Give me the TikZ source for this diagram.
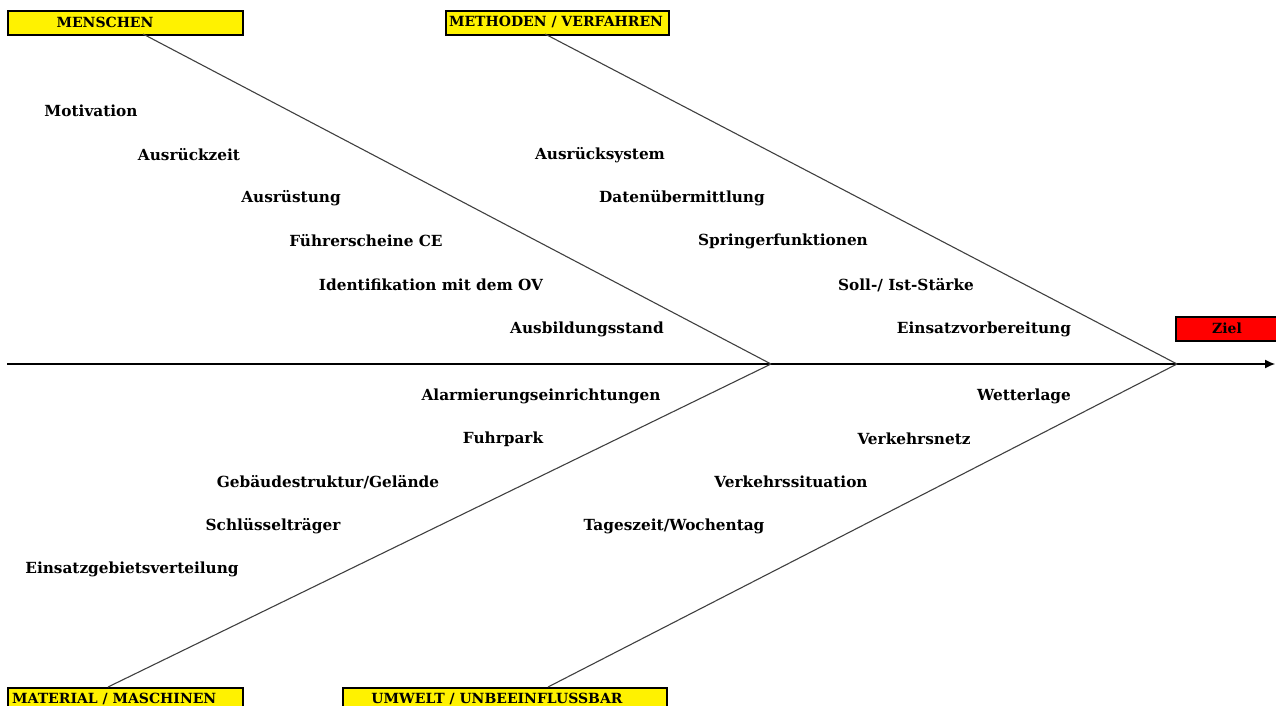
\documentclass[tikz,border=0pt]{standalone}
\usepackage{fontspec}
\setmainfont{DejaVu Serif}
\usetikzlibrary{arrows.meta}
\begin{document}
\begin{tikzpicture}[x=1pt,y=-1pt,
  lbl/.style={font=\bfseries\fontsize{15.3}{17}\selectfont, inner sep=0pt, anchor=center},
  hdr/.style={font=\bfseries\fontsize{14}{16}\selectfont, inner sep=0pt, anchor=center},
  catbox/.style={draw=black, line width=1.6pt, fill=yellow, inner sep=0pt, anchor=north west},
  zielbox/.style={draw=black, line width=1.6pt, fill=red, inner sep=0pt, anchor=north west},
  bone/.style={draw=black!75, line width=1.1pt},
  spine/.style={draw=black, line width=1.2pt}]
\useasboundingbox (0,0) rectangle (1276,706);
\clip (0,0) rectangle (1276,706);
% boxes
\node[catbox, minimum width=235pt, minimum height=24pt] (bm) at (7,10) {};
\node[hdr] (tm) at (105,22) {MENSCHEN};
\node[catbox, minimum width=223pt, minimum height=24pt] (bv) at (445,10) {};
\node[hdr] (tv) at (556,22) {METHODEN / VERFAHREN};
\node[catbox, minimum width=235pt, minimum height=26pt] (bma) at (7,687) {};
\node[hdr, anchor=west] (tma) at (12,699) {MATERIAL / MASCHINEN};
\node[catbox, minimum width=324pt, minimum height=26pt] (bu) at (342,687) {};
\node[hdr] (tu) at (497,699) {UMWELT / UNBEEINFLUSSBAR};
\node[zielbox, minimum width=104pt, minimum height=24pt] (bz) at (1175,316) {};
\node[hdr] (tz) at (1227,328) {Ziel};
% coordinates
\coordinate (s0) at (7,364);
\coordinate (s1) at (1275,364);
\coordinate (j1) at (771,364);
\coordinate (j2) at (1177,364);
\coordinate (pm) at (143,34);
\coordinate (pv) at (545,34);
\coordinate (pma) at (108,687);
\coordinate (pu) at (548,687);
% lines
\draw[spine, -{Latex[length=10pt,width=9pt]}] (s0) -- (s1);
\draw[bone] (pm) -- (j1);
\draw[bone] (pv) -- (j2);
\draw[bone] (j1) -- (pma);
\draw[bone] (j2) -- (pu);
% labels Menschen
\node[lbl] (l1) at (91,111) {Motivation};
\node[lbl] (l2) at (189,155) {Ausrückzeit};
\node[lbl] (l3) at (291,198) {Ausrüstung};
\node[lbl] (l4) at (366,241) {Führerscheine CE};
\node[lbl] (l5) at (431,285) {Identifikation mit dem OV};
\node[lbl] (l6) at (587,329) {Ausbildungsstand};
% Methoden
\node[lbl] (m1) at (600,155) {Ausrücksystem};
\node[lbl] (m2) at (682,198) {Datenübermittlung};
\node[lbl] (m3) at (783,241) {Springerfunktionen};
\node[lbl] (m4) at (906,285) {Soll-/ Ist-Stärke};
\node[lbl] (m5) at (984,329) {Einsatzvorbereitung};
% Material
\node[lbl] (a1) at (541,396) {Alarmierungseinrichtungen};
\node[lbl] (a2) at (503,439) {Fuhrpark};
\node[lbl] (a3) at (328,482) {Gebäudestruktur/Gelände};
\node[lbl] (a4) at (273,526) {Schlüsselträger};
\node[lbl] (a5) at (132,569) {Einsatzgebietsverteilung};
% Umwelt
\node[lbl] (u1) at (1024,396) {Wetterlage};
\node[lbl] (u2) at (914,439) {Verkehrsnetz};
\node[lbl] (u3) at (791,482) {Verkehrssituation};
\node[lbl] (u4) at (674,526) {Tageszeit/Wochentag};
\end{tikzpicture}
\end{document}
